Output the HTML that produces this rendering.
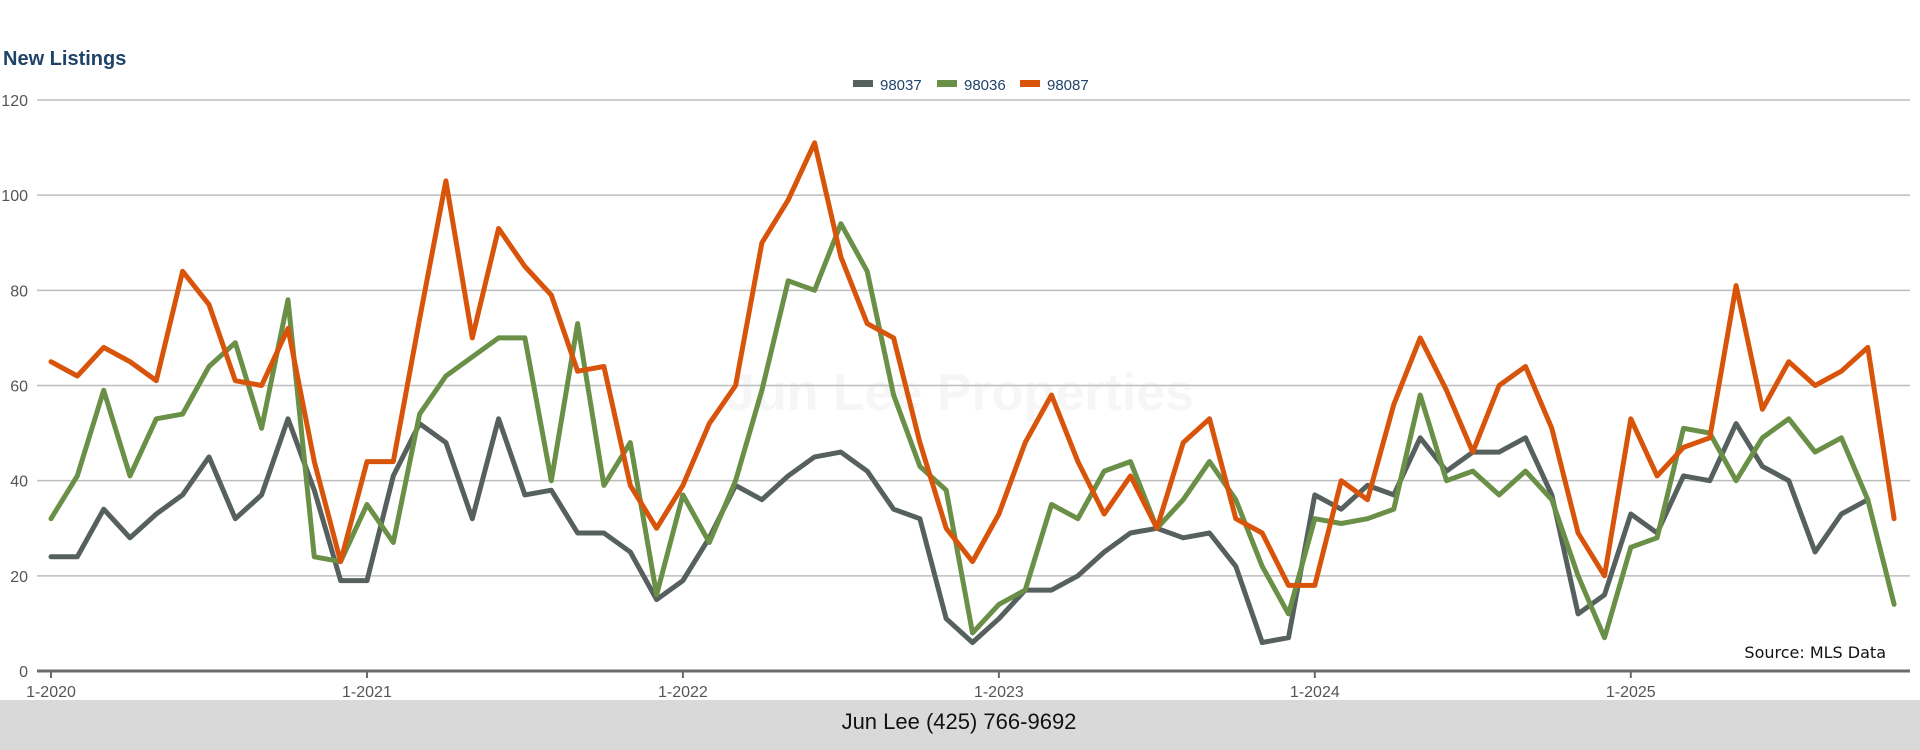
<!DOCTYPE html>
<html><head><meta charset="utf-8">
<style>
html,body{margin:0;padding:0;background:#fff;width:1920px;height:750px;overflow:hidden;font-family:"Liberation Sans",sans-serif;}
svg{display:block}
</style></head>
<body>
<svg id="chart" width="1920" height="750">
  <rect x="0" y="700" width="1920" height="50" fill="#d9d9d9"/>
  <text x="959" y="729" font-size="22" fill="#111" text-anchor="middle" font-family="Liberation Sans, sans-serif">Jun Lee (425) 766-9692</text>
  <text x="3" y="65" font-size="20" font-weight="bold" fill="#1f4468">New Listings</text>
  <text x="960" y="410" font-size="52" font-weight="bold" fill="#f6f6f6" text-anchor="middle">Jun Lee Properties</text>
  <g id="grid"></g>
  <g id="xaxis"></g>
  <g id="lines"></g>
  <g id="legend"></g>
  <text x="1886" y="658" font-size="16" fill="#111" text-anchor="end" font-family="DejaVu Sans, sans-serif">Source: MLS Data</text>
</svg>
<script>
const yTicks = [0,20,40,60,80,100,120];
const xTickLabels = ["1-2020","1-2021","1-2022","1-2023","1-2024","1-2025"];
const seriesNames = ["98037","98036","98087"];
const s98037 = [24,24,34,28,33,37,45,32,37,53,38,19, 19,41,52,48,32,53,37,38,29,29,25,15, 19,28,39,36,41,45,46,42,34,32,11,6, 11,17,17,20,25,29,30,28,29,22,6,7, 37,34,39,37,49,42,46,46,49,37,12,16, 33,29,41,40,52,43,40,25,33,36];
const s98036 = [32,41,59,41,53,54,64,69,51,78,24,23, 35,27,54,62,66,70,70,40,73,39,48,16, 37,27,40,59,82,80,94,84,58,43,38,8, 14,17,35,32,42,44,30,36,44,36,22,12, 32,31,32,34,58,40,42,37,42,36,20,7, 26,28,51,50,40,49,53,46,49,36,14];
const s98087 = [65,62,68,65,61,84,77,61,60,72,44,23, 44,44,74,103,70,93,85,79,63,64,39,30, 39,52,60,90,99,111,87,73,70,48,30,23, 33,48,58,44,33,41,30,48,53,32,29,18, 18,40,36,56,70,59,46,60,64,51,29,20, 53,41,47,49,81,55,65,60,63,68,32];
const colors = ["#56605f","#6a8f47","#d9540b"];

const X0=51, MONTH=26.33, Y0=671, YTOP=100, YMAX=120;
const xs = i => X0 + i*MONTH;
const ys = v => Y0 - (v/YMAX)*(Y0-YTOP);
const NS="http://www.w3.org/2000/svg";
function mk(tag, attrs, parent){const e=document.createElementNS(NS,tag);for(const k in attrs)e.setAttribute(k,attrs[k]);parent.appendChild(e);return e;}

const grid=document.getElementById('grid');
yTicks.forEach(t=>{
  if(t>0){
    const l=mk('line',{x1:37,x2:1910,y1:ys(t),y2:ys(t),stroke:'#bdbdbd','stroke-width':1.5},grid);
    
    
  }
  const tx=mk('text',{x:28,y:ys(t)+6,'font-size':16,fill:'#555','text-anchor':'end'},grid);
  tx.textContent=t;
  
  
});
const xa=document.getElementById('xaxis');
const ax=mk('line',{x1:37,x2:1910,y1:Y0,y2:Y0,stroke:'#6b6b6b','stroke-width':3},xa);


xTickLabels.forEach((lab,k)=>{
  const x=xs(k*12);
  const tk=mk('line',{x1:x,x2:x,y1:Y0,y2:Y0+7,stroke:'#6b6b6b','stroke-width':2},xa);
  
  
  const t=mk('text',{x:x,y:697,'font-size':16,fill:'#555','text-anchor':'middle'},xa);
  t.textContent=lab;
  
  
});
const lines=document.getElementById('lines');
[s98037,s98036,s98087].forEach((s,k)=>{
  const d=s.map((v,i)=>(i?'L':'M')+xs(i).toFixed(1)+','+ys(v).toFixed(1)).join(' ');
  const p=mk('path',{d:d,fill:'none',stroke:colors[k],'stroke-width':5,'stroke-linejoin':'round','stroke-linecap':'round'},lines);
  
  
});
const lg=document.getElementById('legend');
const lx=[853,937,1020];
seriesNames.forEach((n,k)=>{
  const r=mk('rect',{x:lx[k],y:80,width:20,height:7,fill:colors[k]},lg);
  
  
  const t=mk('text',{x:lx[k]+27,y:90,'font-size':15,fill:'#1f4468'},lg);
  t.textContent=n;
  
  
});
</script>
</body></html>
